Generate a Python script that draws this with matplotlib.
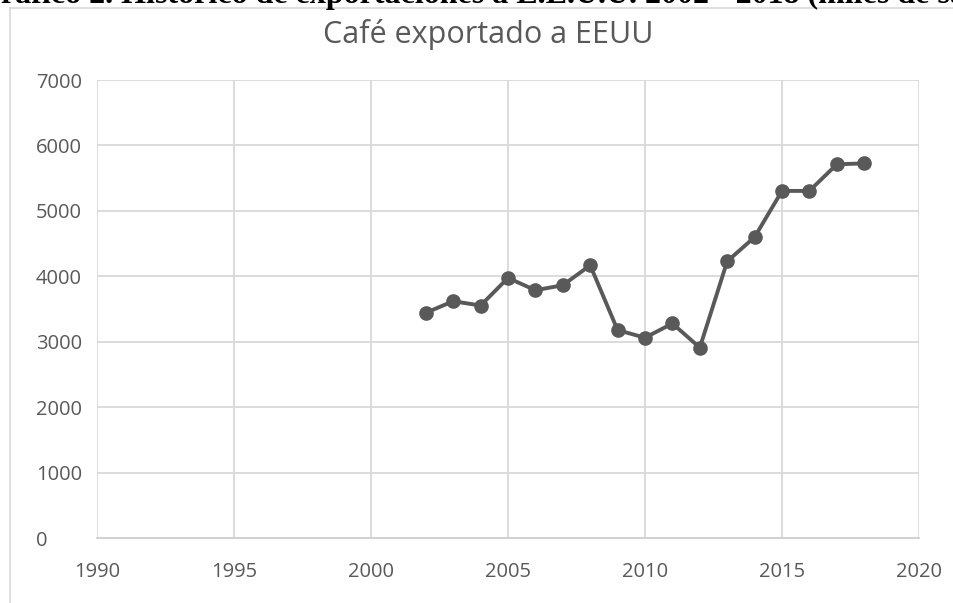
import matplotlib
matplotlib.use("Agg")
import matplotlib.pyplot as plt
from matplotlib.lines import Line2D

years = [2002, 2003, 2004, 2005, 2006, 2007, 2008, 2009, 2010,
         2011, 2012, 2013, 2014, 2015, 2016, 2017, 2018]
cafe = [3442, 3619, 3553, 3975, 3787, 3863, 4168, 3178, 3061,
        3279, 2909, 4228, 4599, 5305, 5305, 5711, 5726]
x_ticks = [1990, 1995, 2000, 2005, 2010, 2015, 2020]
y_ticks = [0, 1000, 2000, 3000, 4000, 5000, 6000, 7000]
titulo = "Café exportado a EEUU"
encabezado = "Gráfico 2. Histórico de exportaciones a E.E.U.U. 2002 - 2018 (miles de sacos)"

gris = "#595959"
rejilla = "#d9d9d9"

plt.rcParams['font.family'] = ['Open Sans', 'DejaVu Sans']

fig = plt.figure(figsize=(9.54, 6.03), dpi=100)
ax = fig.add_axes([97 / 954, 1 - 538 / 603, (919 - 97) / 954, (538 - 80) / 603])

ax.plot(years, cafe, color=gris, linewidth=2.8, marker='o', markersize=9.5,
        markerfacecolor=gris, markeredgecolor=gris, zorder=3)

ax.set_xlim(1990, 2020)
ax.set_ylim(0, 7000)
ax.set_xticks(x_ticks)
ax.set_yticks(y_ticks)
ax.grid(True, color=rejilla, linewidth=1.3)
ax.set_axisbelow(True)
for s in ['top', 'right', 'left']:
    ax.spines[s].set_visible(False)
ax.spines['bottom'].set_color("#cfcfcf")
ax.spines['bottom'].set_linewidth(1.3)
ax.tick_params(axis='both', length=0, labelsize=14.5, labelcolor=gris)
ax.tick_params(axis='x', pad=17)
ax.tick_params(axis='y', pad=44)
for lbl in ax.get_yticklabels():
    lbl.set_horizontalalignment('left')

fig.text(488 / 954, 1 - 43 / 603, titulo, ha='center', va='baseline',
         fontsize=22, color=gris)

# encabezado del documento, cortado por arriba
fig.text(-0.025, 1 - 3 / 603, encabezado, ha='left', va='baseline',
         fontsize=23, fontweight='bold', family='Liberation Serif', color='black')

# marco del gráfico
fig.add_artist(Line2D([10 / 954, 10 / 954], [0, 1 - 8 / 603],
                      transform=fig.transFigure, color=rejilla, linewidth=1.2))
fig.add_artist(Line2D([10 / 954, 1], [1 - 8 / 603, 1 - 8 / 603],
                      transform=fig.transFigure, color=rejilla, linewidth=1.2))

fig.savefig("out.png", dpi=100)
